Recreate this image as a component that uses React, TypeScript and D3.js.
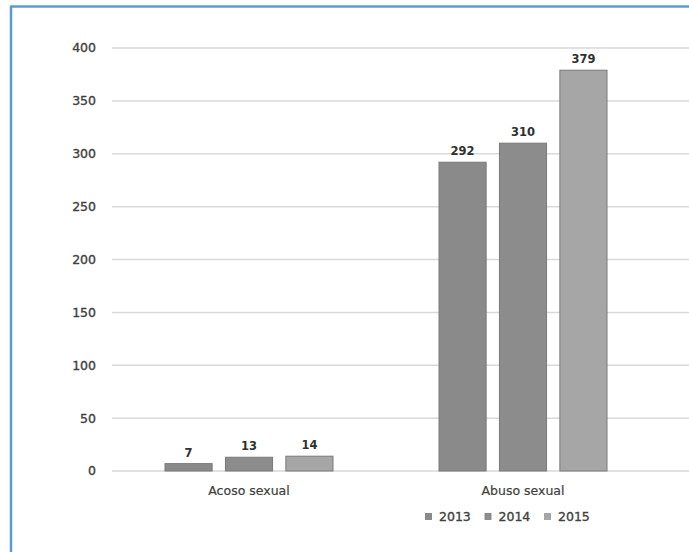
import React from "react";
import * as d3 from "d3";

const categories = ["Acoso sexual", "Abuso sexual"];
const years = ["2013", "2014", "2015"];
const values2013 = [7, 292];
const values2014 = [13, 310];
const values2015 = [14, 379];
const yTicks = [0, 50, 100, 150, 200, 250, 300, 350, 400];
const colors = ["#8a8a8a", "#8c8c8c", "#a6a6a6"];

const W = 689;
const H = 552;
const FONT = "'DejaVu Sans', 'Open Sans', sans-serif";

export default function App() {
  const series = [values2013, values2014, values2015];
  const y = d3.scaleLinear().domain([0, 400]).range([471, 48]);
  const x0 = d3.scaleBand<string>().domain(categories).range([112, 660]).paddingInner(0).paddingOuter(0);
  const groupW = 168;
  const x1 = d3
    .scaleBand<string>()
    .domain(years)
    .range([0, groupW])
    .paddingInner(0.22)
    .paddingOuter(0);

  return (
    <svg
      width={W}
      height={H}
      style={{ position: "absolute", left: 0, top: 0, background: "#fff" }}
      fontFamily={FONT}
    >
      <rect x={0} y={0} width={W} height={H} fill="#fff" />
      {/* frame */}
      <line x1={11} y1={6.5} x2={W} y2={6.5} stroke="#5b9bd5" strokeWidth={2.5} />
      <line x1={11} y1={5.5} x2={11} y2={H} stroke="#5b9bd5" strokeWidth={2.5} />
      {/* grid */}
      {yTicks.map((t) => (
        <g key={t}>
          <line x1={112} x2={W} y1={y(t)} y2={y(t)} stroke="#d9d9d9" strokeWidth={1.5} />
          <text
            x={96}
            y={y(t)}
            dy="0.35em"
            textAnchor="end"
            fontSize={12.5}
            fill="#404040"
            stroke="#404040"
            strokeWidth={0.35}
          >
            {t}
          </text>
        </g>
      ))}
      {/* bars */}
      {categories.map((c, ci) => {
        const gx = (x0(c) as number) + x0.bandwidth() / 2 - groupW / 2;
        return (
          <g key={c}>
            {years.map((yr, si) => {
              const v = series[si][ci];
              const bx = gx + (x1(yr) as number);
              const bw = x1.bandwidth();
              return (
                <g key={yr}>
                  <rect
                    x={bx}
                    y={y(v)}
                    width={bw}
                    height={y(0) - y(v)}
                    fill={colors[si]}
                    stroke="#7a7a7a"
                    strokeWidth={1}
                  />
                  <text
                    x={bx + bw / 2}
                    y={y(v) - 7}
                    textAnchor="middle"
                    fontSize={11.5}
                    fontWeight={700}
                    fill="#303030"
                  >
                    {v}
                  </text>
                </g>
              );
            })}
            <text
              x={(x0(c) as number) + x0.bandwidth() / 2}
              y={495}
              textAnchor="middle"
              fontSize={12.5}
              fill="#404040"
              stroke="#404040"
              strokeWidth={0.2}
            >
              {c}
            </text>
          </g>
        );
      })}
      {/* legend */}
      {years.map((yr, i) => {
        const lx = 425 + i * 59.5;
        return (
          <g key={yr}>
            <rect x={lx} y={513} width={7} height={7} fill={colors[i]} />
            <text
              x={lx + 14}
              y={521}
              fontSize={12.5}
              fill="#404040"
              stroke="#404040"
              strokeWidth={0.35}
            >
              {yr}
            </text>
          </g>
        );
      })}
    </svg>
  );
}
